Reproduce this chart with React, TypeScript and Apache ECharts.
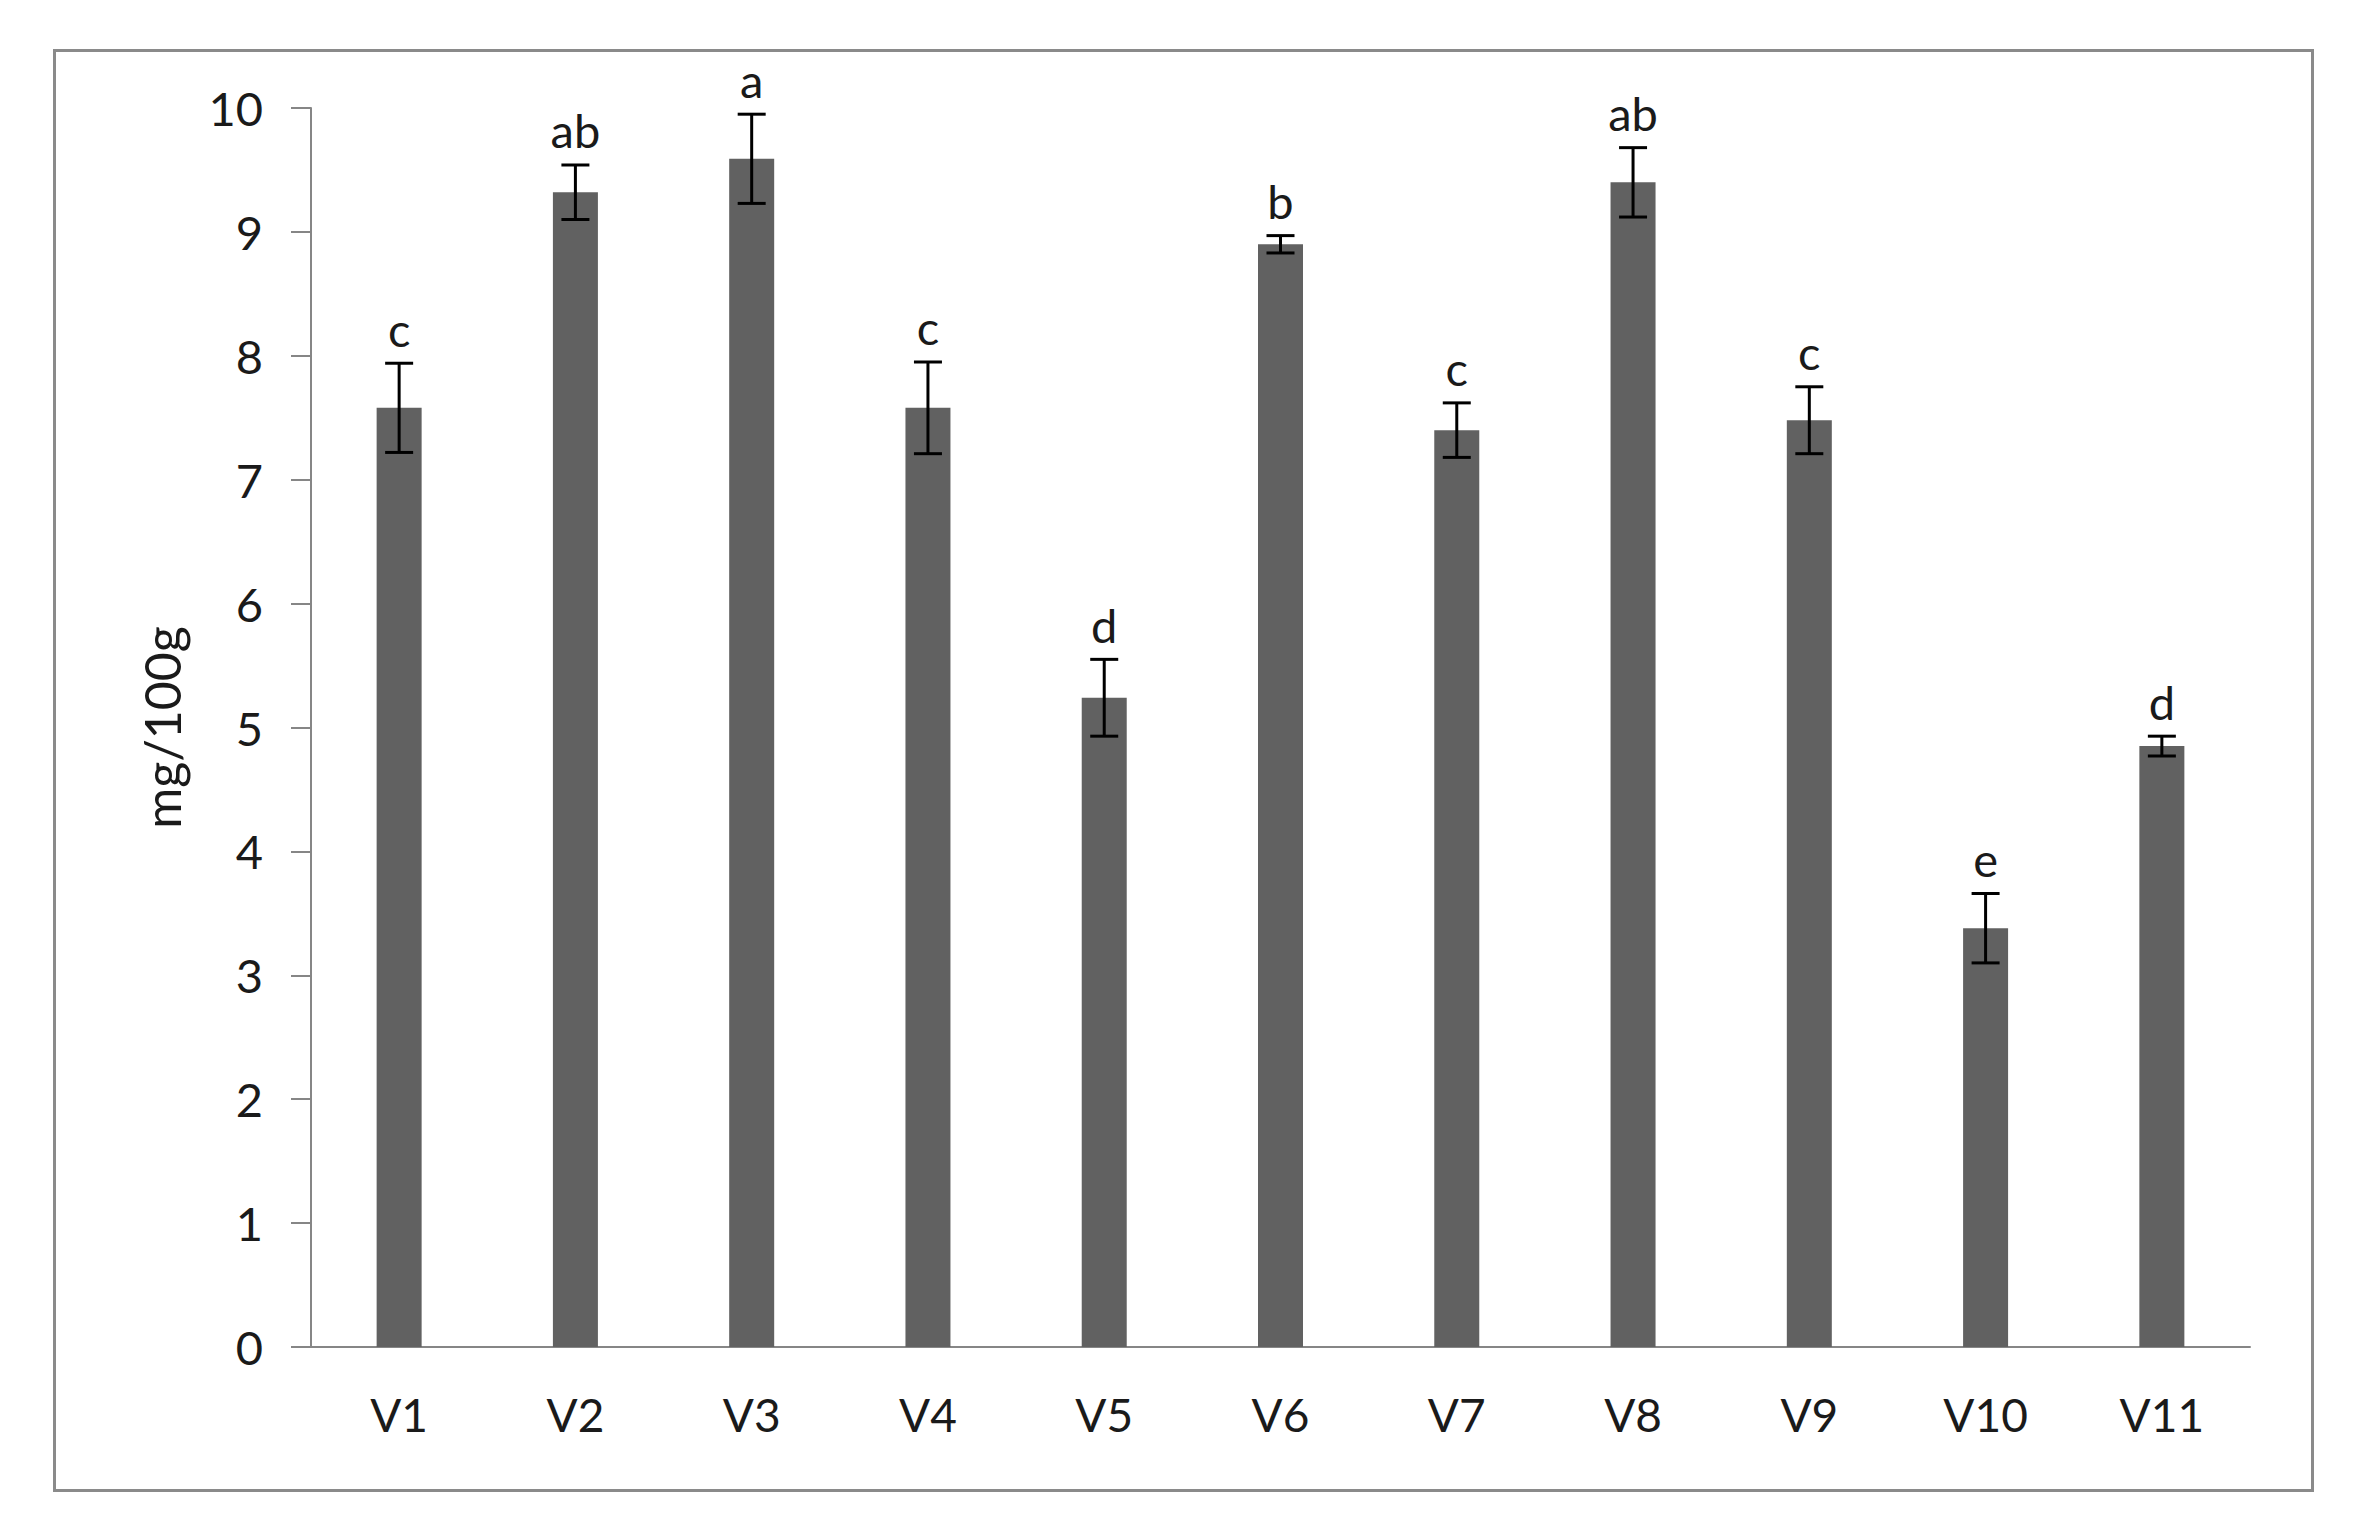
import React, { useEffect, useRef } from "react";
import * as echarts from "echarts";

const categories = ["V1", "V2", "V3", "V4", "V5", "V6", "V7", "V8", "V9", "V10", "V11"];
const means = [7.58, 9.32, 9.59, 7.58, 5.24, 8.9, 7.4, 9.4, 7.48, 3.38, 4.85];
const errors = [0.36, 0.22, 0.36, 0.37, 0.31, 0.07, 0.22, 0.28, 0.27, 0.28, 0.08];
const letters = ["c", "ab", "a", "c", "d", "b", "c", "ab", "c", "e", "d"];
const yAxisTitle = "mg/100g";
const yMin = 0;
const yMax = 10;
const yStep = 1;

const FONT = "Lato, 'Open Sans', sans-serif";

export default function App() {
  const ref = useRef<HTMLDivElement>(null);

  useEffect(() => {
    if (!ref.current) return;
    const chart = echarts.init(ref.current, null, { renderer: "svg" });
    const errData = categories.map((_, i) => [i, means[i], errors[i]]);

    chart.setOption({
      animation: false,
      backgroundColor: "#ffffff",
      graphic: [
        {
          type: "rect",
          left: 52,
          top: 48,
          shape: { x: 0, y: 0, width: 2258, height: 1440 },
          style: { fill: "none", stroke: "#8a8a8a", lineWidth: 3 },
          silent: true,
        },
      ],
      grid: { left: 311, right: 107, top: 108, bottom: 189, containLabel: false },
      xAxis: {
        type: "category",
        data: categories,
        axisTick: { show: false },
        axisLine: { lineStyle: { color: "#868686", width: 2 } },
        axisLabel: { fontSize: 46, fontFamily: FONT, color: "#1a1a1a", margin: 44 },
      },
      yAxis: {
        type: "value",
        min: yMin,
        max: yMax,
        interval: yStep,
        name: yAxisTitle,
        nameLocation: "middle",
        nameRotate: 90,
        nameGap: 124,
        nameTextStyle: { fontSize: 50, fontFamily: FONT, color: "#1a1a1a" },
        axisLine: { show: true, lineStyle: { color: "#868686", width: 2 } },
        axisTick: { show: true, length: 20, lineStyle: { color: "#868686", width: 2 } },
        splitLine: { show: false },
        axisLabel: { fontSize: 47, fontFamily: FONT, color: "#1a1a1a", margin: 48 },
      },
      series: [
        {
          type: "bar",
          data: means,
          barWidth: 45,
          itemStyle: { color: "#616161" },
          silent: true,
        },
        {
          type: "custom",
          data: errData,
          z: 10,
          silent: true,
          renderItem: (params: any, api: any) => {
            const i = api.value(0);
            const m = api.value(1);
            const e = api.value(2);
            const top = api.coord([i, m + e]);
            const bot = api.coord([i, m - e]);
            const half = 14;
            const ls = { stroke: "#000000", lineWidth: 3 };
            return {
              type: "group",
              children: [
                { type: "line", shape: { x1: top[0], y1: top[1], x2: bot[0], y2: bot[1] }, style: ls },
                { type: "line", shape: { x1: top[0] - half, y1: top[1], x2: top[0] + half, y2: top[1] }, style: ls },
                { type: "line", shape: { x1: bot[0] - half, y1: bot[1], x2: bot[0] + half, y2: bot[1] }, style: ls },
                {
                  type: "text",
                  x: top[0],
                  y: top[1] - 11,
                  style: {
                    text: letters[params.dataIndex],
                    fontSize: 47,
                    fontFamily: FONT,
                    fill: "#1a1a1a",
                    align: "center",
                    verticalAlign: "bottom",
                  },
                },
              ],
            };
          },
        },
      ],
    });

    return () => chart.dispose();
  }, []);

  return (
    <div
      ref={ref}
      style={{ position: "fixed", left: 0, top: 0, width: 2357, height: 1536, background: "#fff" }}
    />
  );
}
